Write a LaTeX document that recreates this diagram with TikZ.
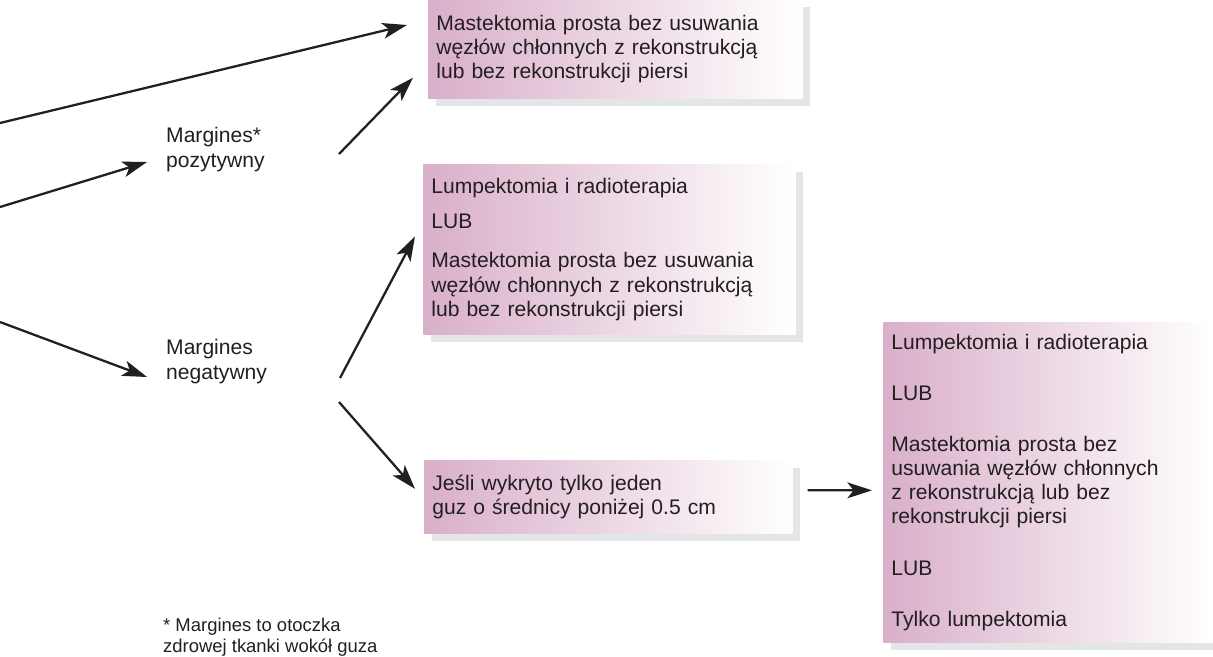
\documentclass[tikz,border=0pt]{standalone}
\usepackage{fontspec}
\setmainfont{Liberation Sans}
\usepackage{tikz}
\usetikzlibrary{arrows.meta, positioning, calc, shadows}
\definecolor{mPink}{HTML}{D9AFC9}
\definecolor{mText}{HTML}{231F20}
\definecolor{mShadow}{HTML}{E4E5E7}

\begin{document}
\begin{tikzpicture}[x=0.02cm, y=-0.02cm,
    box/.style={rectangle, anchor=north west, align=left, left color=mPink, right color=white, inner xsep=0.16cm, inner ysep=0pt, text=mText, font=\fontsize{12}{13.7}\selectfont, drop shadow={shadow xshift=0.16cm, shadow yshift=-0.15cm, fill=mShadow, opacity=1}},
    branch/.style={align=left, anchor=west, text=mText, font=\fontsize{12}{14.2}\selectfont},
    arrow/.style={line width=1.3pt, -{Stealth[length=14pt, width=9pt, inset=3.5pt]}, mText}
]
    \useasboundingbox (0,0) rectangle (1213,656);

    \node[box, text width=7.16cm, minimum height=1.98cm] (mastA) at (428,-1) {Mastektomia prosta bez usuwania\\ węzłów chłonnych z rekonstrukcją\\ lub bez rekonstrukcji piersi};
    \node[box, text width=7.12cm, minimum height=3.4cm] (opcjeB) at (423,164) {Lumpektomia i radioterapia\\[6pt] LUB\\[9pt] Mastektomia prosta bez usuwania\\ węzłów chłonnych z rekonstrukcją\\ lub bez rekonstrukcji piersi};
    \node[box, text width=7.04cm, minimum height=1.46cm] (guz) at (424,460) {Jeśli wykryto tylko jeden\\ guz o średnicy poniżej 0.5 cm};
    \node[box, text width=6.28cm, minimum height=6.4cm] (opcjeC) at (883,322) {Lumpektomia i radioterapia\\[15.5pt] LUB\\[15.5pt] Mastektomia prosta bez\\ usuwania węzłów chłonnych\\ z rekonstrukcją lub bez\\ rekonstrukcji piersi\\[15.5pt] LUB\\[15.5pt] Tylko lumpektomia};

    \node[branch] (pozyt) at (160,150) {Margines*\\ pozytywny};
    \node[branch] (negat) at (160,362) {Margines\\ negatywny};
    \node[branch, font=\fontsize{10.5}{12}\selectfont] (przypis) at (157,637) {* Margines to otoczka\\ zdrowej tkanki wokół guza};

    \coordinate (wejA) at (0,123);
    \coordinate (wejB) at (0,207);
    \coordinate (wejC) at (0,322);

    \draw[arrow] (wejA) -- ($(mastA.north west)+(-21,26)$);
    \draw[arrow] (wejB) -- ($(pozyt.west)+(-13,12)$);
    \draw[arrow] (wejC) -- ($(negat.west)+(-13,15)$);
    \draw[arrow] ($(pozyt.west)+(179,4)$) -- ($(mastA.south west)+(-15,-21)$);
    \draw[arrow] ($(negat.west)+(180,16)$) -- ($(opcjeB.west)+(-8,-13)$);
    \draw[arrow] ($(negat.west)+(179,40)$) -- ($(guz.west)+(-9,-8)$);
    \draw[arrow] ($(guz.east)+(15,-6.5)$) -- ($(opcjeC.west)+(-11,8)$);
\end{tikzpicture}
\end{document}
